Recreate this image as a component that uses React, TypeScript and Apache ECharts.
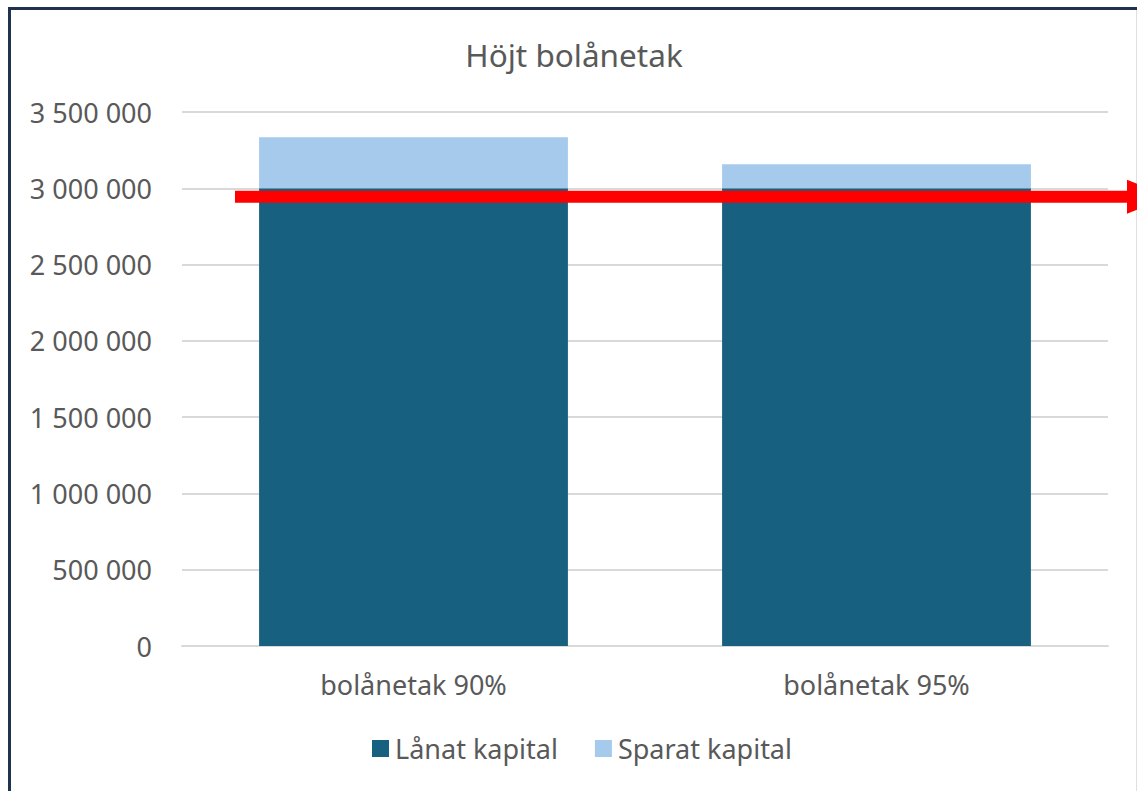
import React, { useEffect, useRef } from "react";
import * as echarts from "echarts";

const TITLE = "Höjt bolånetak";
const categories = ["bolånetak 90%", "bolånetak 95%"];
const lanatKapital = [3000000, 3000000];
const sparatKapital = [335000, 158000];
const seriesNames = ["Lånat kapital", "Sparat kapital"];
const arrowValue = 2945000;
const yMin = 0;
const yMax = 3500000;
const yInterval = 500000;

const TEXT = "#595959";
const FONT = "'Noto Sans', 'Liberation Sans', sans-serif";

function fmt(v: number): string {
  return String(Math.round(v)).replace(/\B(?=(\d{3})+(?!\d))/g, " ");
}

export default function App() {
  const ref = useRef<HTMLDivElement>(null);
  useEffect(() => {
    if (!ref.current) return;
    const chart = echarts.init(ref.current, null, { renderer: "svg" });
    chart.setOption({
      animation: false,
      backgroundColor: "#ffffff",
      textStyle: { fontFamily: FONT },
      title: {
        text: TITLE,
        left: 569,
        textAlign: "center",
        top: 33,
        textStyle: { fontFamily: FONT, fontSize: 31.5, fontWeight: "normal", color: TEXT },
      },
      legend: {
        data: seriesNames,
        left: 367,
        top: 730,
        itemWidth: 17,
        itemHeight: 17,
        itemGap: 37,
        icon: "rect",
        textStyle: { fontFamily: FONT, fontSize: 27, color: TEXT, padding: [0, 0, 0, 1] },
      },
      grid: { left: 182, right: 29, top: 112, bottom: 145, containLabel: false },
      xAxis: {
        type: "category",
        data: categories,
        axisLine: { lineStyle: { color: "#d9d9d9", width: 2 } },
        axisTick: { show: false },
        axisLabel: { fontFamily: FONT, fontSize: 27, color: TEXT, margin: 25 },
      },
      yAxis: {
        type: "value",
        min: yMin,
        max: yMax,
        interval: yInterval,
        axisLine: { show: false },
        axisTick: { show: false },
        splitLine: { lineStyle: { color: "#d9d9d9", width: 2 } },
        axisLabel: { fontFamily: FONT, fontSize: 27, color: TEXT, margin: 30, formatter: (v: number) => fmt(v) },
      },
      series: [
        {
          name: seriesNames[0],
          type: "bar",
          stack: "total",
          data: lanatKapital,
          barCategoryGap: "33.3%",
          itemStyle: { color: "#17607f" },
        },
        {
          name: seriesNames[1],
          type: "bar",
          stack: "total",
          data: sparatKapital,
          itemStyle: { color: "#a6caec" },
        },
      ],
    });
    const yc = chart.convertToPixel({ yAxisIndex: 0 }, arrowValue) as number;
    chart.setOption({
      graphic: [
        {
          type: "rect",
          shape: { x: 9.5, y: 8.5, width: 1160, height: 820 },
          style: { fill: "none", stroke: "#1f3350", lineWidth: 3 },
          z: 100,
        },
        {
          type: "line",
          shape: { x1: 1136.5, y1: 10, x2: 1136.5, y2: 791 },
          style: { stroke: "#e0e0e0", lineWidth: 1 },
          z: 100,
        },
        {
          type: "rect",
          shape: { x: 235, y: yc - 6, width: 1128 - 235, height: 12 },
          style: { fill: "#ff0000" },
          z: 100,
        },
        {
          type: "polygon",
          shape: { points: [[1127, yc - 17], [1170, yc], [1127, yc + 17]] },
          style: { fill: "#ff0000" },
          z: 100,
        },
      ],
    });
    return () => chart.dispose();
  }, []);
  return (
    <div
      ref={ref}
      style={{ position: "fixed", left: 0, top: 0, width: 1137, height: 791 }}
    />
  );
}
